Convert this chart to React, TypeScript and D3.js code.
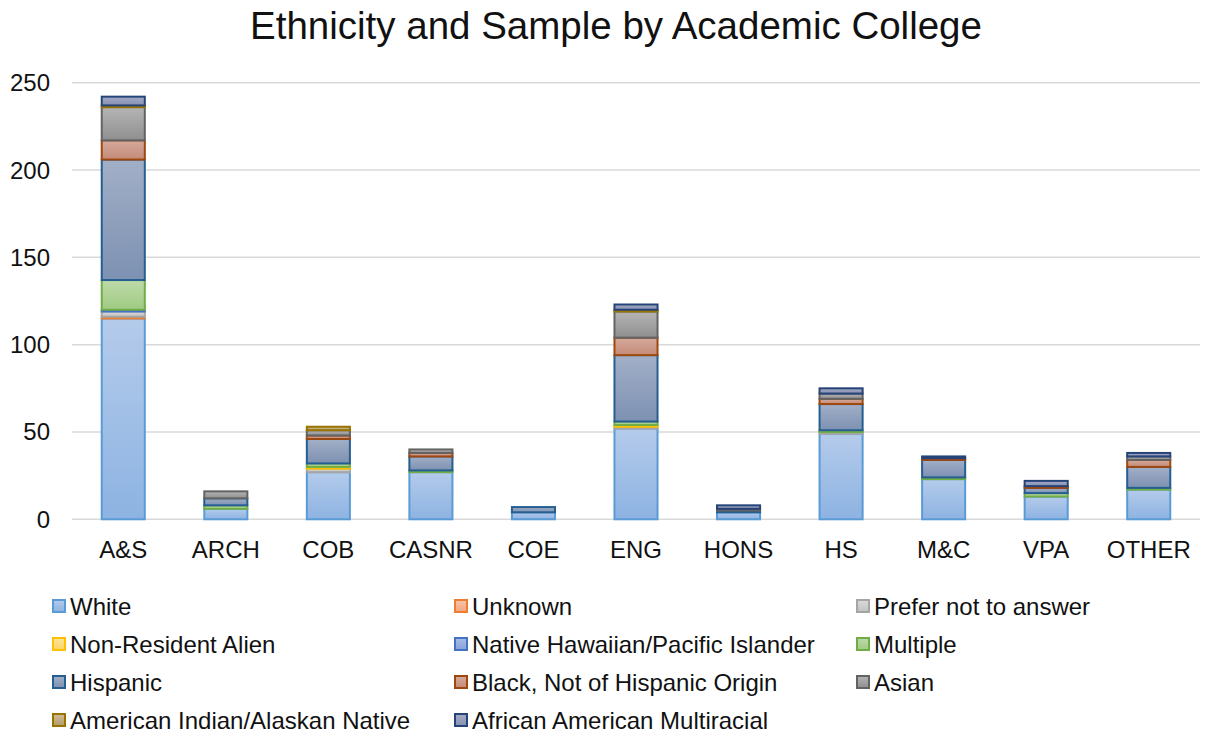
import React from "react";
import * as d3 from "d3";

const categories = ["A&S", "ARCH", "COB", "CASNR", "COE", "ENG", "HONS", "HS", "M&C", "VPA", "OTHER"];

const seriesNames = [
  "White",
  "Unknown",
  "Prefer not to answer",
  "Non-Resident Alien",
  "Native Hawaiian/Pacific Islander",
  "Multiple",
  "Hispanic",
  "Black, Not of Hispanic Origin",
  "Asian",
  "American Indian/Alaskan Native",
  "African American Multiracial",
];

const white = [115, 6, 27, 27, 4, 52, 4, 49, 23, 13, 17];
const unknown = [1, 0, 0, 0, 0, 0, 0, 0, 0, 0, 0];
const preferNot = [3, 0, 2, 0, 0, 1, 0, 1, 0, 0, 0];
const nonResident = [0, 0, 1, 0, 0, 1, 0, 0, 0, 0, 0];
const nativeHawaiian = [1, 0, 0, 0, 0, 0, 0, 0, 0, 0, 0];
const multiple = [17, 2, 2, 1, 0, 2, 0, 1, 1, 2, 1];
const hispanic = [69, 4, 14, 8, 3, 38, 1, 15, 10, 3, 12];
const black = [11, 0, 2, 2, 0, 10, 0, 3, 1, 1, 4];
const asian = [19, 4, 3, 2, 0, 15, 1, 3, 0, 0, 2];
const americanIndian = [1, 0, 2, 0, 0, 1, 0, 0, 0, 0, 0];
const africanAmMulti = [5, 0, 0, 0, 0, 3, 2, 3, 1, 3, 2];

const seriesValues = [
  white, unknown, preferNot, nonResident, nativeHawaiian, multiple,
  hispanic, black, asian, americanIndian, africanAmMulti,
];

const yTicks = [0, 50, 100, 150, 200, 250];

// [stroke, top fill, bottom fill]
const palette: [string, string, string][] = [
  ["#5b9bd5", "#b4cbeb", "#8db3e2"],
  ["#ed7d31", "#f8c4a8", "#f3a67e"],
  ["#a5a5a5", "#dadada", "#c2c2c2"],
  ["#ffc000", "#ffe49c", "#ffd466"],
  ["#4472c4", "#a9bde6", "#88a3da"],
  ["#70ad47", "#bedaa9", "#9fcb82"],
  ["#255e91", "#a2afc7", "#7d91b2"],
  ["#9e480e", "#d6aa9c", "#c48a78"],
  ["#636363", "#b5b5b5", "#8f8f8f"],
  ["#997300", "#cfbd96", "#b49c6a"],
  ["#264478", "#a4abc6", "#8590b2"],
];

const FONT = "'Liberation Sans', Arial, sans-serif";

export default function App() {
  const W = 1216;
  const H = 732;
  const x = d3.scaleBand<string>().domain(categories).range([72, 1200]).paddingInner(0.58).paddingOuter(0.29);
  const y = d3.scaleLinear().domain([0, 250]).range([519.3, 82.7]);

  const table = categories.map((c, i) => {
    const row: any = { cat: c };
    seriesNames.forEach((s, j) => (row[s] = seriesValues[j][i]));
    return row;
  });
  const stacked = d3.stack<any>().keys(seriesNames)(table);

  const legendCols = [52, 454, 856];
  const legendRows = [606, 644, 682, 720];

  return (
    <svg width={W} height={H} style={{ position: "absolute", left: 0, top: 0, background: "#fff" }} fontFamily={FONT}>
      <defs>
        {palette.map((p, i) => (
          <linearGradient key={i} id={`g${i}`} x1="0" y1="0" x2="0" y2="1">
            <stop offset="0" stopColor={p[1]} />
            <stop offset="1" stopColor={p[2]} />
          </linearGradient>
        ))}
      </defs>
      <rect x={0} y={0} width={W} height={H} fill="#fff" />
      <text x={616} y={39} textAnchor="middle" fontSize={38.5} fill="#111">
        Ethnicity and Sample by Academic College
      </text>
      {yTicks.map((t) => (
        <g key={t}>
          <line x1={72} x2={1200} y1={y(t)} y2={y(t)} stroke="#d9d9d9" strokeWidth={1.5} />
          <text x={50} y={y(t) + 8.5} textAnchor="end" fontSize={24} fill="#111">
            {t}
          </text>
        </g>
      ))}
      {stacked.map((layer, j) => (
        <g key={j}>
          {layer.map((d, i) => {
            const v = d[1] - d[0];
            if (v <= 0) return null;
            const x0 = x(categories[i])!;
            return (
              <rect
                key={i}
                x={x0}
                y={y(d[1])}
                width={x.bandwidth()}
                height={y(d[0]) - y(d[1])}
                fill={`url(#g${j})`}
                stroke={palette[j][0]}
                strokeWidth={2}
              />
            );
          })}
        </g>
      ))}
      {categories.map((c) => (
        <text key={c} x={x(c)! + x.bandwidth() / 2} y={558} textAnchor="middle" fontSize={24} fill="#111">
          {c}
        </text>
      ))}
      {seriesNames.map((s, j) => {
        const col = j % 3;
        const row = Math.floor(j / 3);
        const lx = legendCols[col];
        const ly = legendRows[row];
        return (
          <g key={s}>
            <rect x={lx + 1} y={ly - 6} width={12} height={12} fill={`url(#g${j})`} stroke={palette[j][0]} strokeWidth={2} />
            <text x={lx + 18} y={ly + 8.5} fontSize={24} fill="#111">
              {s}
            </text>
          </g>
        );
      })}
    </svg>
  );
}
